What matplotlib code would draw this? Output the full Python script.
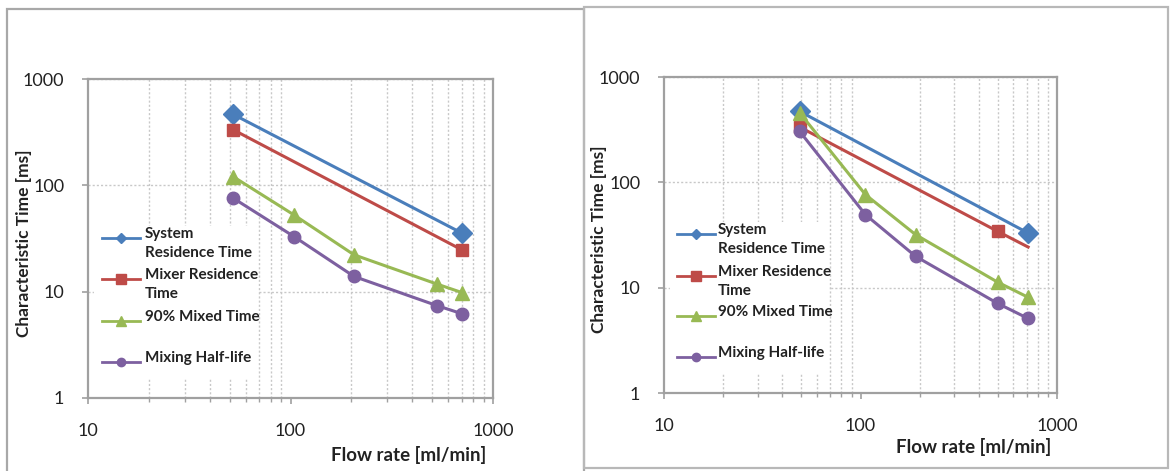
import matplotlib
matplotlib.use("Agg")
import matplotlib.pyplot as plt
from matplotlib.lines import Line2D
from matplotlib.patches import Rectangle
from matplotlib.ticker import LogLocator, NullFormatter, FixedLocator

plt.rcParams['font.family'] = ['Lato', 'DejaVu Sans']

W, H = 1170, 471

# ---- data: left panel ----
left_sys_x = [52, 703]
left_sys_y = [466, 35.5]
left_mix_x = [52, 703]
left_mix_y = [334, 24.7]
left_90_x = [52, 104, 206, 528, 703]
left_90_y = [121, 52.7, 22.2, 11.8, 9.8]
left_half_x = [52, 104, 206, 528, 703]
left_half_y = [76, 33, 13.9, 7.4, 6.2]

# ---- data: right panel ----
right_sys_x = [49, 713]
right_sys_y = [472, 33]
right_mix_x = [49, 498, 713]
right_mix_y = [335, 34.3, 24.3]
right_90_x = [49, 106, 191, 498, 713]
right_90_y = [458, 76.4, 31.8, 11.3, 8.1]
right_half_x = [49, 106, 191, 498, 713]
right_half_y = [305, 49.3, 19.8, 7.1, 5.1]

series_labels = ["System\nResidence Time", "Mixer Residence\nTime",
                 "90% Mixed Time", "Mixing Half-life"]
colors = ["#4A7EBB", "#BE4B48", "#98B954", "#7D60A0"]
markers = ["D", "s", "^", "o"]
msizes = [10, 9, 10.5, 9]
legend_msizes = [5, 7, 6.5, 6]

x_ticks = [10, 100, 1000]
y_ticks = [1, 10, 100, 1000]
x_label = "Flow rate [ml/min]"
y_label = "Characteristic Time [ms]"

fig = plt.figure(figsize=(W / 100, H / 100), dpi=100)


def fx(x):
    return x / W


def fy(y):
    return 1 - y / H


# panel borders
fig.add_artist(Rectangle((fx(7), fy(480)), fx(584) - fx(7), fy(9) - fy(480),
                         transform=fig.transFigure, fill=False,
                         edgecolor="#a8a8a8", linewidth=1.6, zorder=0))
fig.add_artist(Rectangle((fx(584), fy(468)), fx(1168) - fx(584), fy(7) - fy(468),
                         transform=fig.transFigure, fill=False,
                         edgecolor="#b8b8b8", linewidth=1.6, zorder=0))

panels = [
    dict(box=(88, 79, 493, 398),
         data=[(left_sys_x, left_sys_y, None), (left_mix_x, left_mix_y, None),
               (left_90_x, left_90_y, None), (left_half_x, left_half_y, None)],
         leg_x=(102, 140, 145), leg_y=[238, 279, 321, 362],
         leg_box=(94, 226, 258, 378),
         ylab=(24, 243), xlab=(486, 455)),
    dict(box=(664, 77, 1057, 393),
         data=[(right_sys_x, right_sys_y, None), (right_mix_x, right_mix_y, [0, 1]),
               (right_90_x, right_90_y, None), (right_half_x, right_half_y, None)],
         leg_x=(677, 715, 718), leg_y=[234, 276, 316, 357],
         leg_box=(670, 222, 829, 373),
         ylab=(599, 239), xlab=(1051, 447)),
]

for p in panels:
    x0, y0, x1, y1 = p["box"]
    ax = fig.add_axes([fx(x0), fy(y1), fx(x1) - fx(x0), fy(y0) - fy(y1)])
    ax.set_xscale("log")
    ax.set_yscale("log")
    ax.set_xlim(10, 1000)
    ax.set_ylim(1, 1000)
    ax.xaxis.set_major_locator(FixedLocator(x_ticks))
    ax.yaxis.set_major_locator(FixedLocator(y_ticks))
    ax.set_xticklabels([str(v) for v in x_ticks])
    ax.set_yticklabels([str(v) for v in y_ticks])
    ax.xaxis.set_minor_locator(LogLocator(base=10, subs=range(2, 10)))
    ax.xaxis.set_minor_formatter(NullFormatter())
    ax.yaxis.set_minor_locator(FixedLocator([]))
    ax.tick_params(axis="both", which="major", labelsize=13, colors="#a0a0a0",
                   labelcolor="#222222", length=4, width=1.2, direction="out")
    ax.tick_params(axis="x", which="major", pad=14)
    ax.tick_params(axis="y", which="major", pad=13)
    ax.tick_params(axis="x", which="minor", length=3, width=1.0,
                   colors="#a0a0a0", direction="out")
    ax.grid(True, which="minor", axis="x", linestyle=(0, (1.5, 1.5)),
            color="#c8c8c8", linewidth=1.0)
    ax.grid(True, which="major", axis="y", linestyle=(0, (1.5, 1.5)),
            color="#c8c8c8", linewidth=1.0)
    for s in ax.spines.values():
        s.set_color("#a0a0a0")
        s.set_linewidth(1.6)
    ax.set_axisbelow(True)

    for (xs, ys, me), c, m, ms in zip(p["data"], colors, markers, msizes):
        ax.plot(xs, ys, color=c, linewidth=2.2, marker=m, markersize=ms,
                markeredgecolor=c, markerfacecolor=c, markevery=me,
                zorder=3, clip_on=False)

    # legend (white background, no frame)
    bx0, by0, bx1, by1 = p["leg_box"]
    fig.add_artist(Rectangle((fx(bx0), fy(by1)), fx(bx1) - fx(bx0), fy(by0) - fy(by1),
                             transform=fig.transFigure, facecolor="white",
                             edgecolor="none", zorder=2))
    lx0, lx1, tx = p["leg_x"]
    for lab, c, m, lms, yy in zip(series_labels, colors, markers, legend_msizes, p["leg_y"]):
        fig.add_artist(Line2D([fx(lx0), fx(lx1)], [fy(yy), fy(yy)],
                              transform=fig.transFigure, color=c, linewidth=2.0,
                              zorder=3))
        fig.add_artist(Line2D([fx((lx0 + lx1) / 2)], [fy(yy)],
                              transform=fig.transFigure, color=c, marker=m,
                              markersize=lms, linestyle="none", zorder=3))
        fig.text(fx(tx), fy(yy - 11), lab, ha="left", va="top", fontsize=11,
                 fontweight="bold", color="#222222", linespacing=1.42, zorder=4)

    fig.text(fx(p["ylab"][0]), fy(p["ylab"][1]), y_label, rotation=90,
             ha="center", va="center", fontsize=12.5, fontweight="bold",
             color="#222222")
    fig.text(fx(p["xlab"][0]), fy(p["xlab"][1]), x_label, ha="right",
             va="center", fontsize=13.5, fontweight="bold", color="#222222")

fig.savefig("out.png", dpi=100)
